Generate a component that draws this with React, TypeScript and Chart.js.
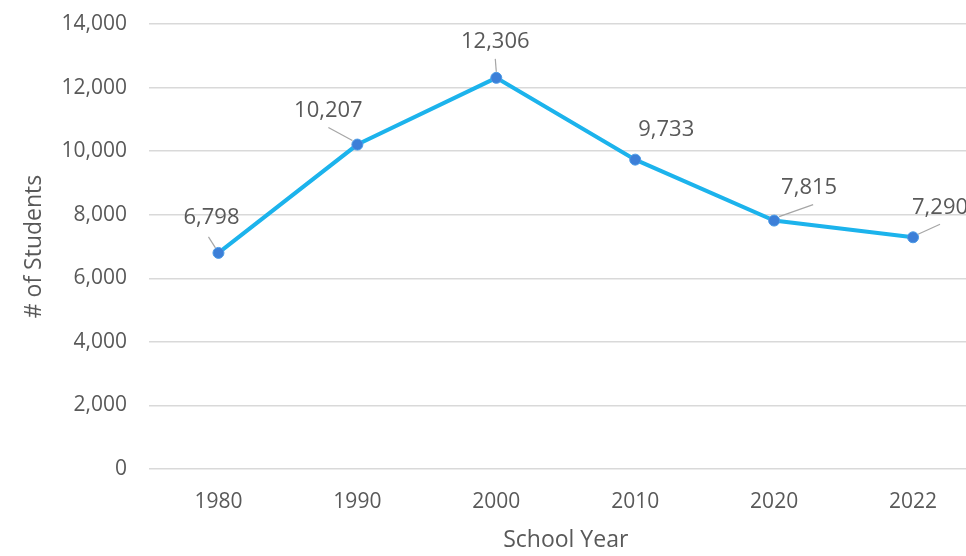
import React, { useEffect, useRef } from "react";
import { Chart, registerables } from "chart.js";

Chart.register(...registerables);

const years = ["1980", "1990", "2000", "2010", "2020", "2022"];
const students = [6798, 10207, 12306, 9733, 7815, 7290];
const yTicks = [0, 2000, 4000, 6000, 8000, 10000, 12000, 14000];

// label placement (style): text offset from point, leader line from/to offsets (null = no leader)
const labelOffsets: [number, number][] = [
  [-7, -35],
  [-29, -34],
  [-1, -36],
  [31, -30],
  [35, -33],
  [27, -30],
];
const leaders: ([number, number, number, number] | null)[] = [
  [-10, -16, -3, -5],
  [-29, -17, -5, -4],
  [-1, -19, 0, -6],
  null,
  [5, -4, 39, -16],
  [5, -3, 27, -13],
];

const FONT = "'Open Sans', sans-serif";
const TEXT = "#595959";

const labelPlugin = {
  id: "pointLabels",
  afterDatasetsDraw(chart: any) {
    const meta = chart.getDatasetMeta(0);
    const ctx = chart.ctx;
    ctx.save();
    meta.data.forEach((pt: any, i: number) => {
      const ld = leaders[i];
      if (ld) {
        ctx.strokeStyle = "#A6A6A6";
        ctx.lineWidth = 1.2;
        ctx.beginPath();
        ctx.moveTo(pt.x + ld[0], pt.y + ld[1]);
        ctx.lineTo(pt.x + ld[2], pt.y + ld[3]);
        ctx.stroke();
      }
      const [dx, dy] = labelOffsets[i];
      ctx.fillStyle = TEXT;
      ctx.font = `22px ${FONT}`;
      ctx.textAlign = "center";
      ctx.textBaseline = "middle";
      ctx.fillText(students[i].toLocaleString("en-US"), pt.x + dx, pt.y + dy);
    });
    ctx.restore();
  },
};

export default function App() {
  const ref = useRef<HTMLCanvasElement>(null);
  useEffect(() => {
    document.documentElement.style.overflow = "hidden";
    document.body.style.overflow = "hidden";
    const chart = new Chart(ref.current!, {
      type: "line",
      data: {
        labels: years,
        datasets: [
          {
            data: students,
            borderColor: "#1CB3EC",
            borderWidth: 4,
            pointBackgroundColor: "#3C7FD8",
            pointBorderColor: "#4C9BE6",
            pointBorderWidth: 1,
            pointRadius: 5.5,
            tension: 0,
          },
        ],
      },
      options: {
        animation: false,
        responsive: false,
        maintainAspectRatio: false,
        layout: { padding: { left: 0, right: 0, top: 24, bottom: 0 } },
        plugins: { legend: { display: false }, tooltip: { enabled: false } },
        scales: {
          x: {
            offset: true,
            grid: { display: false, drawTicks: false },
            border: { display: false },
            ticks: { color: TEXT, font: { family: FONT, size: 21 }, padding: 20, maxRotation: 0 },
            title: {
              display: true,
              text: "School Year",
              color: TEXT,
              font: { family: FONT, size: 23 },
              padding: { top: 0, bottom: 2 },
            },
            afterFit: (s: any) => {
              s.height = 87;
              s.paddingLeft = 0;
              s.paddingRight = 0;
            },
          },
          y: {
            min: 0,
            max: 14000,
            afterBuildTicks: (s: any) => {
              s.ticks = yTicks.map((v) => ({ value: v }));
            },
            grid: { color: "#D9D9D9", lineWidth: 1.5, drawTicks: false },
            border: { display: false },
            ticks: {
              color: TEXT,
              font: { family: FONT, size: 21 },
              padding: 22,
              callback: (v: any) => Number(v).toLocaleString("en-US"),
            },
            title: {
              display: true,
              text: "# of Students",
              color: TEXT,
              font: { family: FONT, size: 23 },
              padding: { top: 21, bottom: 0 },
            },
            afterFit: (s: any) => {
              s.width = 149;
              s.paddingTop = 0;
              s.paddingBottom = 0;
            },
          },
        },
      },
      plugins: [labelPlugin],
    });
    return () => chart.destroy();
  }, []);
  return (
    <div style={{ position: "absolute", left: 0, top: 0, width: 989, height: 556 }}>
      <canvas ref={ref} width={989} height={556} style={{ width: 989, height: 556 }} />
    </div>
  );
}
